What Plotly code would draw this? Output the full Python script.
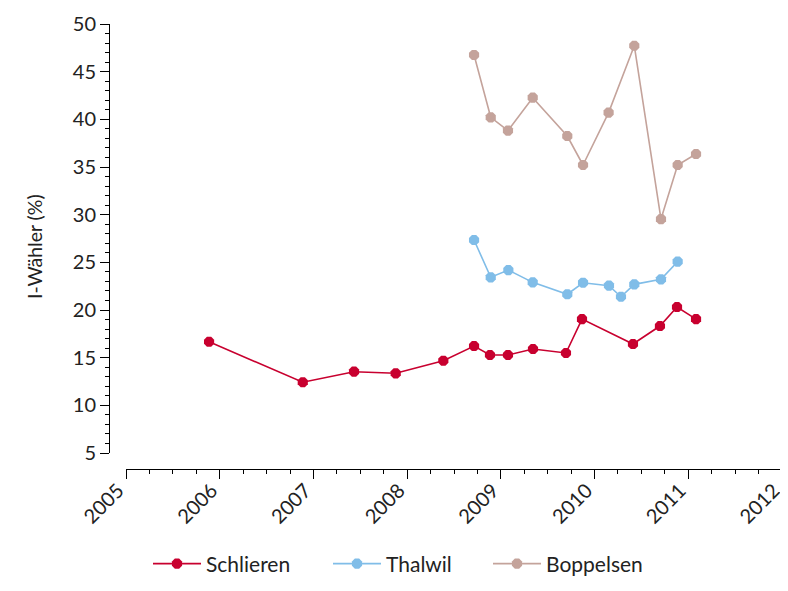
import plotly.graph_objects as go

# Data (decimal years, percent)
schlieren_x = [2005.886, 2006.886, 2007.433, 2007.878, 2008.386, 2008.714, 2008.884,
               2009.076, 2009.343, 2009.695, 2009.866, 2010.410, 2010.698, 2010.880, 2011.083]
schlieren_y = [16.67, 12.42, 13.53, 13.36, 14.68, 16.22, 15.28,
               15.28, 15.91, 15.49, 19.05, 16.43, 18.32, 20.31, 19.05]

thalwil_x = [2008.714, 2008.892, 2009.080, 2009.340, 2009.709, 2009.877,
             2010.154, 2010.282, 2010.424, 2010.709, 2010.887]
thalwil_y = [27.34, 23.43, 24.19, 22.90, 21.65, 22.86,
             22.55, 21.39, 22.69, 23.22, 25.07]

boppelsen_x = [2008.714, 2008.892, 2009.076, 2009.340, 2009.709, 2009.877,
               2010.150, 2010.424, 2010.709, 2010.887, 2011.083]
boppelsen_y = [46.75, 40.21, 38.81, 42.27, 38.25, 35.21,
               40.70, 47.72, 29.54, 35.21, 36.36]

x_ticks = [2005, 2006, 2007, 2008, 2009, 2010, 2011, 2012]
y_title = "I-Wähler (%)"

series = [
    ("Schlieren", schlieren_x, schlieren_y, "#C8002F", "legend"),
    ("Thalwil", thalwil_x, thalwil_y, "#80BDE8", "legend2"),
    ("Boppelsen", boppelsen_x, boppelsen_y, "#C4A39B", "legend3"),
]

FONT = "Lato"
TXT = "#222222"

fig = go.Figure()
for name, xs, ys, col, lg in series:
    fig.add_trace(go.Scatter(
        x=xs, y=ys, name=name, mode="lines+markers",
        line=dict(color=col, width=1.6),
        marker=dict(symbol="octagon", size=11, color=col),
        legend=lg,
    ))

W, H = 788, 591
ml, mr, mt, mb = 101, 14, 16, 130
pw = W - ml - mr
ph = H - mt - mb

leg_y = 1 - 556 / H


def leg(x):
    return dict(
        orientation="h", xref="container", yref="container",
        x=x / W, xanchor="left", y=leg_y, yanchor="middle",
        font=dict(family=FONT, size=21, color=TXT),
        itemwidth=48, bgcolor="rgba(0,0,0,0)",
    )


fig.update_layout(
    width=W, height=H,
    margin=dict(l=ml, r=mr, t=mt, b=mb, autoexpand=False),
    paper_bgcolor="white", plot_bgcolor="white",
    font=dict(family=FONT, size=20, color=TXT),
    showlegend=True,
    legend=leg(140),
    legend2=leg(320),
    legend3=leg(480),
    xaxis=dict(
        domain=[17 / pw, 1], anchor="free", position=0,
        range=[2004.9995, 2012.0005],
        tickmode="array", tickvals=x_ticks, ticktext=[str(v) for v in x_ticks],
        tickangle=-45, automargin=False,
        ticklabelshift=-8, ticklabelstandoff=-8,
        showgrid=False, zeroline=False,
        showline=True, linecolor="black", linewidth=1,
        ticks="outside", ticklen=9, tickcolor="black", tickwidth=1,
        minor=dict(dtick=0.25, tick0=2005, ticks="outside", ticklen=4, tickcolor="black", showgrid=False),
        tickfont=dict(family=FONT, size=20, color=TXT),
    ),
    yaxis=dict(
        domain=[16 / ph, 1], anchor="free", position=0,
        range=[5, 50], dtick=5, tick0=5, automargin=False,
        showgrid=False, zeroline=False,
        showline=True, linecolor="black", linewidth=1,
        ticks="outside", ticklen=9, tickcolor="black", tickwidth=1,
        minor=dict(dtick=1, ticks="outside", ticklen=4, tickcolor="black", showgrid=False),
        tickfont=dict(family=FONT, size=20, color=TXT),
    ),
    annotations=[dict(
        text=y_title, textangle=-90, showarrow=False,
        xref="paper", yref="paper",
        x=(26 - ml) / pw, xanchor="center",
        y=1 - (239 - mt) / ph, yanchor="middle",
        font=dict(family=FONT, size=19.5, color=TXT),
    )],
)

fig.write_html("out.html")
